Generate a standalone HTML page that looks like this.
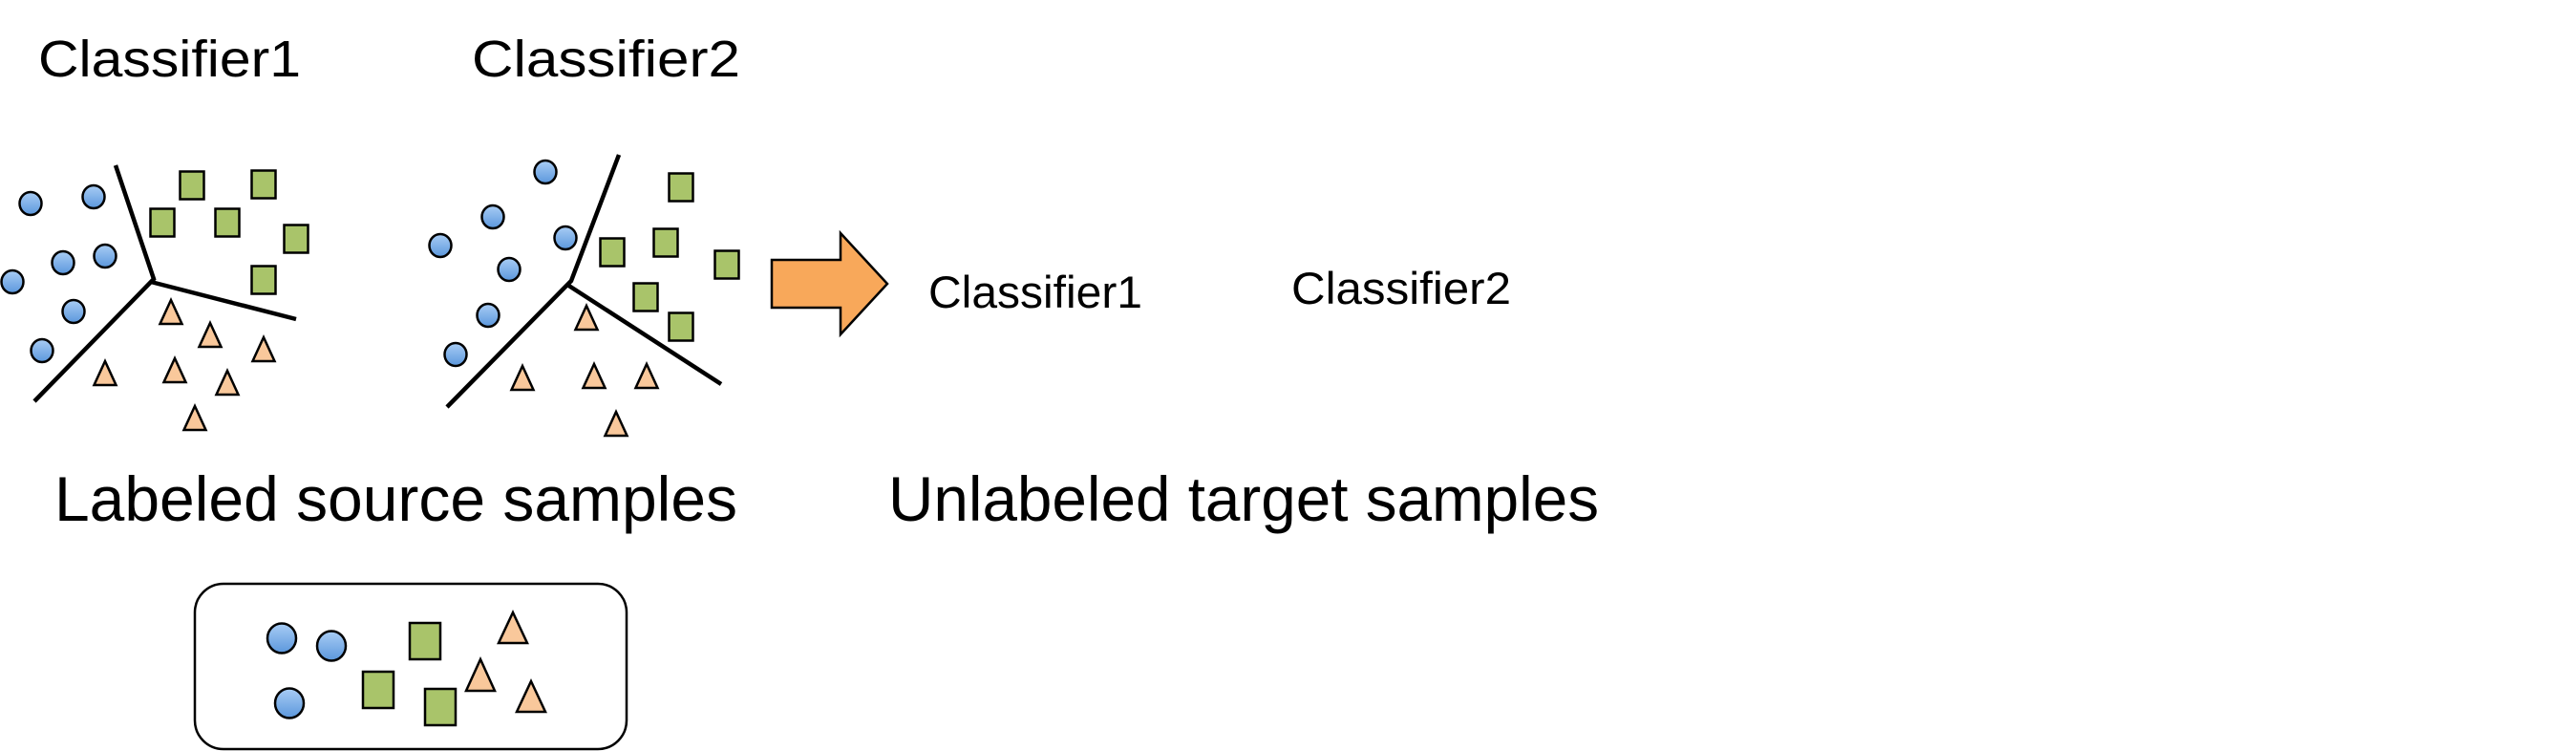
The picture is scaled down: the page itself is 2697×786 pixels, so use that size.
<!DOCTYPE html>
<html><head><meta charset="utf-8"><style>
html,body{margin:0;padding:0;background:#fff;}
svg{display:block;}
text{font-family:"Liberation Sans",sans-serif;fill:#000;}
</style></head><body>
<svg width="2697" height="786" viewBox="0 0 2697 786" xmlns="http://www.w3.org/2000/svg">
<defs>
<linearGradient id="bg" x1="0" y1="0" x2="0" y2="1"><stop offset="0" stop-color="#a9cdf5"/><stop offset="1" stop-color="#5b97dc"/></linearGradient>
<g id="c"><ellipse cx="0" cy="0" rx="11.5" ry="12" fill="url(#bg)" stroke="#000" stroke-width="2.5"/></g>
<g id="s"><rect x="-12.5" y="-14.5" width="25" height="29" fill="#a9c46a" stroke="#000" stroke-width="2.5"/></g>
<g id="t"><polygon points="0,0 11.5,25 -11.5,25" fill="#f9c89b" stroke="#000" stroke-width="2.5" stroke-linejoin="miter"/></g>
</defs>

<text x="40" y="80" font-size="54" textLength="275" lengthAdjust="spacingAndGlyphs">Classifier1</text>
<text x="494" y="80" font-size="54" textLength="281" lengthAdjust="spacingAndGlyphs">Classifier2</text>

<!-- left cluster -->
<g stroke="#000" stroke-width="4.5" fill="none">
<polyline points="121,173 161,292 36,420"/>
<line x1="158" y1="295" x2="310" y2="334"/>
</g>
<use href="#c" x="32" y="213"/><use href="#c" x="98" y="206"/><use href="#c" x="66" y="275"/><use href="#c" x="110" y="268"/><use href="#c" x="13" y="295"/><use href="#c" x="77" y="326"/><use href="#c" x="44" y="367"/>
<use href="#s" x="201" y="194"/><use href="#s" x="276" y="193"/><use href="#s" x="170" y="233"/><use href="#s" x="238" y="233"/><use href="#s" x="310" y="250"/><use href="#s" x="276" y="293"/>
<use href="#t" x="179" y="314"/><use href="#t" x="220" y="338"/><use href="#t" x="276" y="353"/><use href="#t" x="110" y="378"/><use href="#t" x="183" y="375"/><use href="#t" x="238" y="388"/><use href="#t" x="204" y="425"/>

<!-- right cluster -->
<g stroke="#000" stroke-width="4.5" fill="none">
<polyline points="648,162 598,294 468,426"/>
<line x1="594" y1="298" x2="755" y2="402"/>
</g>
<use href="#c" x="571" y="180"/><use href="#c" x="516" y="227"/><use href="#c" x="461" y="257"/><use href="#c" x="592" y="249"/><use href="#c" x="533" y="282"/><use href="#c" x="511" y="330"/><use href="#c" x="477" y="371"/>
<use href="#s" x="713" y="196"/><use href="#s" x="697" y="254"/><use href="#s" x="641" y="264"/><use href="#s" x="761" y="277"/><use href="#s" x="676" y="311"/><use href="#s" x="713" y="342"/>
<use href="#t" x="614" y="320"/><use href="#t" x="547" y="383"/><use href="#t" x="622" y="381"/><use href="#t" x="677" y="381"/><use href="#t" x="645" y="431"/>

<!-- arrow -->
<polygon points="808,272 880,272 880,244 929,297 880,350 880,322 808,322" fill="#f8a85a" stroke="#000" stroke-width="2.5"/>

<text x="972" y="322" font-size="47" textLength="224" lengthAdjust="spacingAndGlyphs">Classifier1</text>
<text x="1352" y="318" font-size="47" textLength="230" lengthAdjust="spacingAndGlyphs">Classifier2</text>

<text x="57" y="545" font-size="66" textLength="715" lengthAdjust="spacingAndGlyphs">Labeled source samples</text>
<text x="930" y="545" font-size="66" textLength="744" lengthAdjust="spacingAndGlyphs">Unlabeled target samples</text>

<!-- box -->
<rect x="204" y="611" width="452" height="173" rx="30" ry="30" fill="#fff" stroke="#000" stroke-width="2.5"/>
<g fill="url(#bg)" stroke="#000" stroke-width="2.5">
<ellipse cx="295" cy="668" rx="15" ry="15.5"/><ellipse cx="347" cy="676" rx="15" ry="15.5"/><ellipse cx="303" cy="736" rx="15" ry="15.5"/>
</g>
<g fill="#a9c46a" stroke="#000" stroke-width="2.5">
<rect x="429" y="652" width="32" height="38"/><rect x="380" y="703" width="32" height="38"/><rect x="445" y="721" width="32" height="38"/>
</g>
<g fill="#f9c89b" stroke="#000" stroke-width="2.5">
<polygon points="537,641 552,673 522,673"/><polygon points="503,690 518,723 488,723"/><polygon points="556,713 571,745 541,745"/>
</g>
</svg>
</body></html>
